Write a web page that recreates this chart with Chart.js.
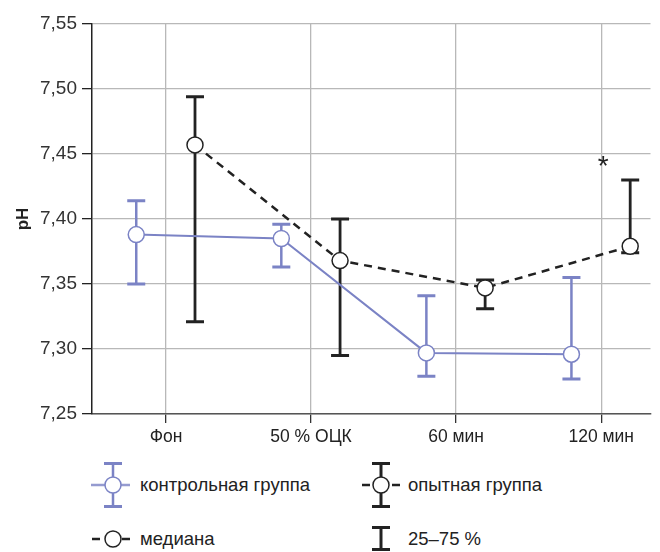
<!DOCTYPE html>
<html lang="ru">
<head>
<meta charset="UTF-8">
<title>pH</title>
<script src="https://cdn.jsdelivr.net/npm/chart.js@4.4.0/dist/chart.umd.min.js"></script>
<style>
    body { margin: 0; background: #fff; font-family: 'Liberation Sans', Arial, sans-serif; color: #222; }
    #wrap { position: relative; width: 660px; height: 552px; overflow: hidden; }
    #chart { position: absolute; left: 0; top: 0; }
    .legend-item { position: absolute; height: 50px; display: flex; align-items: center; font-size: 18.5px; }
    .legend-item svg { display: block; }
    .legend-item span { margin-left: 6px; }
</style>
</head>
<body>
<div id="wrap">
    <canvas id="chart" width="660" height="450"></canvas>

    <div class="legend-item" style="left: 88px; top: 460px;">
        <svg width="46" height="50">
            <line x1="3" y1="25" x2="42" y2="25" stroke="#7b83c5" stroke-width="2.5" opacity="0.8"/>
            <line x1="25" y1="3" x2="25" y2="47" stroke="#7b83c5" stroke-width="2.5"/>
            <line x1="16" y1="3.5" x2="34" y2="3.5" stroke="#7b83c5" stroke-width="3"/>
            <line x1="16" y1="46.5" x2="34" y2="46.5" stroke="#7b83c5" stroke-width="3"/>
            <circle cx="25" cy="25" r="8" fill="#fff" stroke="#7b83c5" stroke-width="1.5"/>
        </svg>
        <span>контрольная группа</span>
    </div>
    <div class="legend-item" style="left: 356px; top: 460px;">
        <svg width="46" height="50">
            <line x1="6" y1="25" x2="14" y2="25" stroke="#222" stroke-width="2.5"/>
            <line x1="36" y1="25" x2="44" y2="25" stroke="#222" stroke-width="2.5"/>
            <line x1="25" y1="3" x2="25" y2="47" stroke="#222" stroke-width="3"/>
            <line x1="16" y1="3.5" x2="34" y2="3.5" stroke="#222" stroke-width="3"/>
            <line x1="16" y1="46.5" x2="34" y2="46.5" stroke="#222" stroke-width="3"/>
            <circle cx="25" cy="25" r="8" fill="#fff" stroke="#222" stroke-width="1.5"/>
        </svg>
        <span>опытная группа</span>
    </div>
    <div class="legend-item" style="left: 88px; top: 514px;">
        <svg width="46" height="50">
            <line x1="4" y1="25" x2="12" y2="25" stroke="#222" stroke-width="2.5"/>
            <line x1="34" y1="25" x2="42" y2="25" stroke="#222" stroke-width="2.5"/>
            <circle cx="25" cy="25" r="8" fill="#fff" stroke="#222" stroke-width="1.5"/>
        </svg>
        <span>медиана</span>
    </div>
    <div class="legend-item" style="left: 356px; top: 514px;">
        <svg width="46" height="50">
            <line x1="25" y1="13" x2="25" y2="36" stroke="#222" stroke-width="3"/>
            <line x1="16" y1="13.5" x2="34" y2="13.5" stroke="#222" stroke-width="3"/>
            <line x1="16" y1="35.5" x2="34" y2="35.5" stroke="#222" stroke-width="3"/>
        </svg>
        <span>25–75 %</span>
    </div>
</div>

<script>
    // categories and values (median, 25th and 75th percentile)
    const categories = ['Фон', '50 % ОЦК', '60 мин', '120 мин'];
    const controlMedian = [7.388, 7.385, 7.297, 7.296];
    const controlQ1 = [7.350, 7.363, 7.279, 7.277];
    const controlQ3 = [7.414, 7.396, 7.341, 7.355];
    const expMedian = [7.457, 7.368, 7.347, 7.379];
    const expQ1 = [7.321, 7.295, 7.331, 7.374];
    const expQ3 = [7.494, 7.400, 7.353, 7.430];
    const yTicks = [7.25, 7.30, 7.35, 7.40, 7.45, 7.50, 7.55];
    // significance mark: category index and value where the "*" sits
    const starCategory = 3;
    const starValue = 7.44;

    const CONTROL_COLOR = '#7b83c5';
    const EXP_COLOR = '#222';
    const CONTROL_SHIFT = -0.205;
    const EXP_SHIFT = 0.2;
    const FONT = "'Liberation Sans', Arial, sans-serif";

    function points(median, q1, q3, shift) {
        return categories.map(function (c, i) {
            return { x: i + 1 + shift, y: median[i], lo: q1[i], hi: q3[i] };
        });
    }

    var errorBars = {
        id: 'errorBars',
        beforeDatasetsDraw(chart) {
            var ctx = chart.ctx;
            var x = chart.scales.x, y = chart.scales.y;
            chart.data.datasets.forEach(function (ds) {
                ctx.save();
                ctx.strokeStyle = ds.borderColor;
                ds.data.forEach(function (p) {
                    var px = x.getPixelForValue(p.x);
                    var lo = y.getPixelForValue(p.lo);
                    var hi = y.getPixelForValue(p.hi);
                    ctx.lineWidth = ds.errorWidth;
                    ctx.beginPath();
                    ctx.moveTo(px, lo);
                    ctx.lineTo(px, hi);
                    ctx.stroke();
                    // caps
                    ctx.lineWidth = 3;
                    ctx.beginPath();
                    ctx.moveTo(px - 9, lo); ctx.lineTo(px + 9, lo);
                    ctx.moveTo(px - 9, hi); ctx.lineTo(px + 9, hi);
                    ctx.stroke();
                });
                ctx.restore();
            });
        },
        afterDatasetsDraw(chart) {
            var ctx = chart.ctx;
            ctx.save();
            ctx.fillStyle = '#222';
            ctx.font = '28px ' + FONT;
            ctx.textAlign = 'center';
            ctx.textBaseline = 'middle';
            ctx.fillText('*', chart.scales.x.getPixelForValue(starCategory + 1) + 2, chart.scales.y.getPixelForValue(starValue));
            ctx.restore();
        }
    };

    new Chart(document.getElementById('chart'), {
        type: 'line',
        data: {
            datasets: [
                {
                    label: 'контрольная группа',
                    data: points(controlMedian, controlQ1, controlQ3, CONTROL_SHIFT),
                    borderColor: CONTROL_COLOR,
                    borderWidth: 2,
                    errorWidth: 2.5,
                    pointRadius: 8,
                    pointBackgroundColor: '#fff',
                    pointBorderColor: CONTROL_COLOR,
                    pointBorderWidth: 1.5,
                    tension: 0
                },
                {
                    label: 'опытная группа',
                    data: points(expMedian, expQ1, expQ3, EXP_SHIFT),
                    borderColor: EXP_COLOR,
                    borderWidth: 2.5,
                    borderDash: [8, 6],
                    errorWidth: 2.8,
                    pointRadius: 8,
                    pointBackgroundColor: '#fff',
                    pointBorderColor: EXP_COLOR,
                    pointBorderWidth: 1.5,
                    tension: 0
                }
            ]
        },
        options: {
            responsive: false,
            animation: false,
            devicePixelRatio: 1,
            layout: { padding: { top: 24, right: 6, left: 0, bottom: 0 } },
            plugins: { legend: { display: false }, tooltip: { enabled: false } },
            scales: {
                x: {
                    type: 'linear',
                    min: 0.49,
                    max: 4.34,
                    afterBuildTicks: function (s) {
                        s.ticks = categories.map(function (c, i) { return { value: i + 1 }; });
                    },
                    afterFit: function (s) { s.height = 36; },
                    ticks: {
                        autoSkip: false,
                        maxRotation: 0,
                        padding: 4,
                        color: '#222',
                        font: { family: FONT, size: 17.5 },
                        callback: function (v) { return categories[Math.round(v) - 1]; }
                    },
                    grid: { color: '#b8b8b8', lineWidth: 1.3, tickLength: 9, tickColor: '#333' },
                    border: { color: '#555', width: 1.5 }
                },
                y: {
                    min: 7.25,
                    max: 7.55,
                    afterBuildTicks: function (s) {
                        s.ticks = yTicks.map(function (v) { return { value: v }; });
                    },
                    afterFit: function (s) { s.width = 92; },
                    ticks: {
                        padding: 5,
                        color: '#333',
                        font: { family: FONT, size: 19 },
                        callback: function (v) { return v.toFixed(2).replace('.', ','); }
                    },
                    grid: { color: '#b8b8b8', lineWidth: 1.3, tickLength: 10, tickColor: '#222' },
                    border: { color: '#222', width: 1.5 },
                    title: {
                        display: true,
                        text: 'pH',
                        color: '#222',
                        font: { family: FONT, size: 17, weight: 'bold' },
                        padding: { top: 13, bottom: 0 }
                    }
                }
            }
        },
        plugins: [errorBars]
    });
</script>
</body>
</html>
